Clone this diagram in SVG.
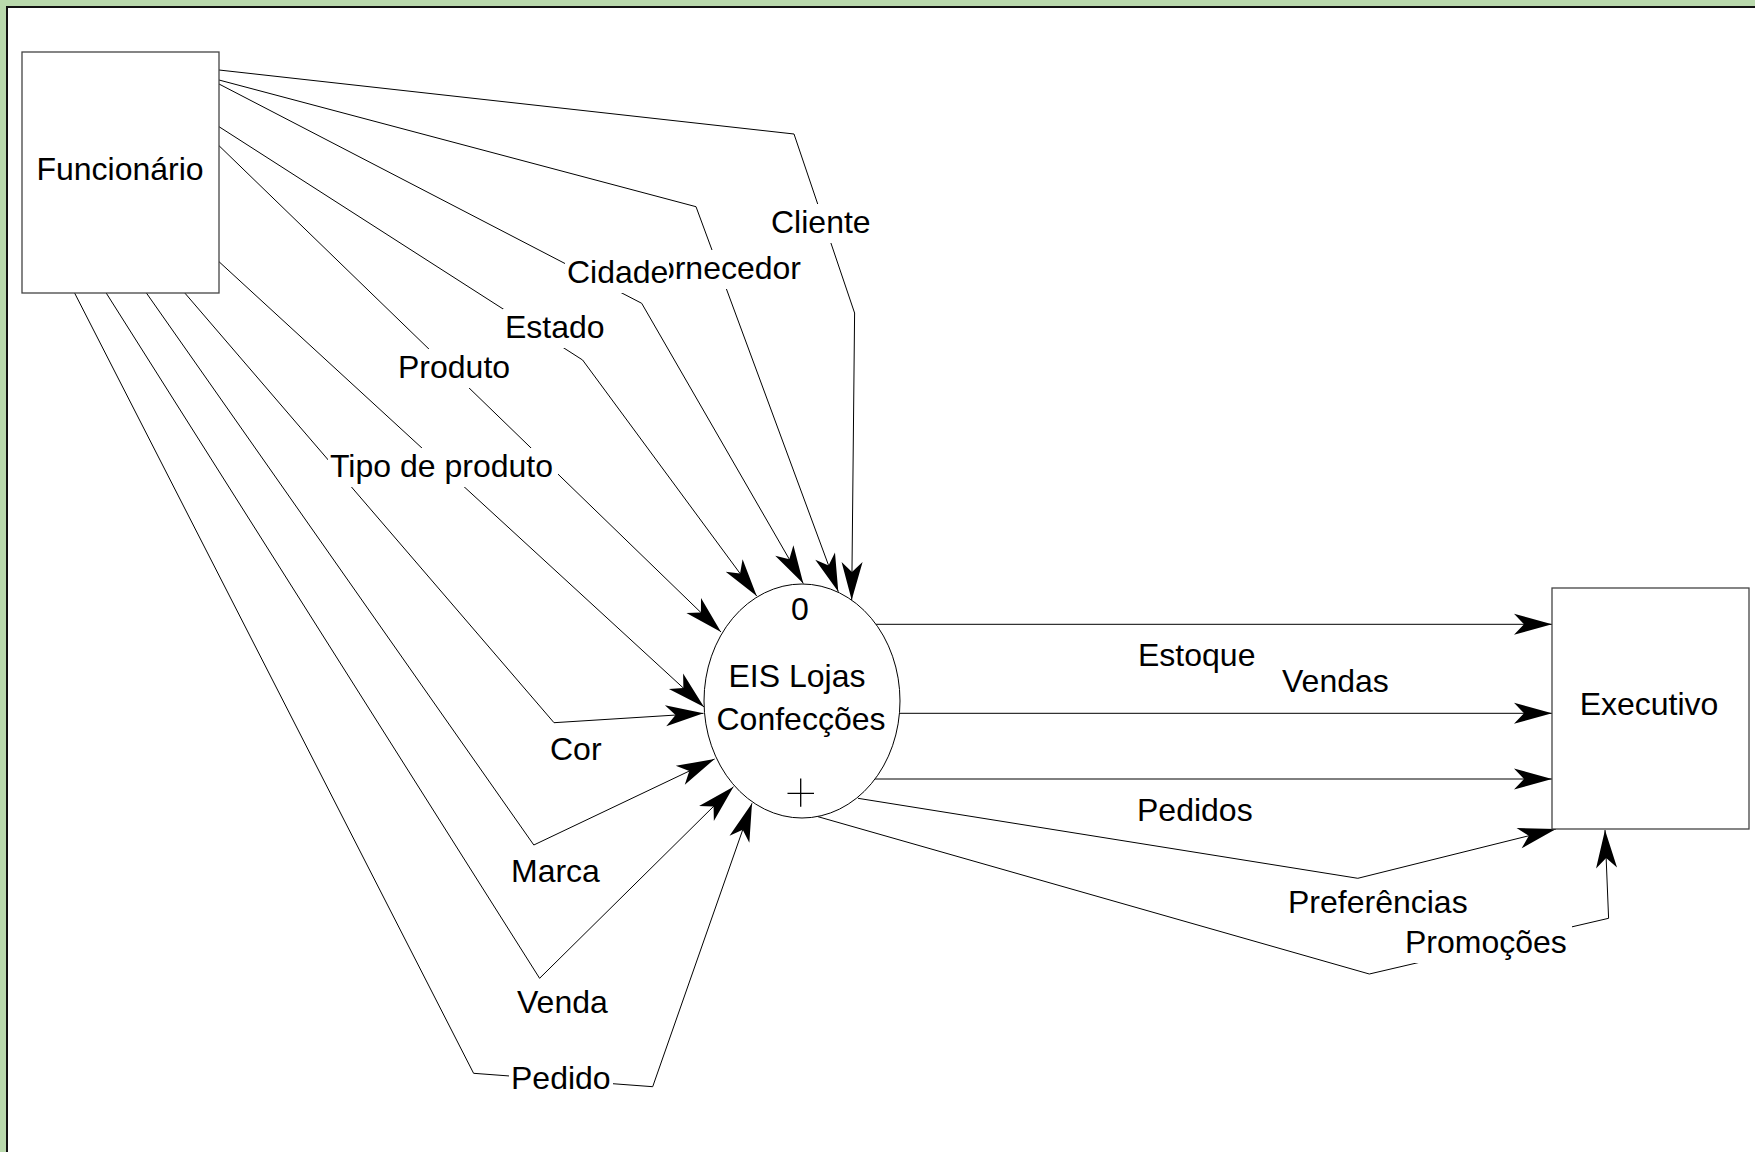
<svg xmlns="http://www.w3.org/2000/svg" width="1755" height="1152" viewBox="0 0 1755 1152">
<style>
  text { font-family: "Liberation Sans", Arial, sans-serif; font-size: 32px; fill: #000; }
  .c { fill: none; stroke: #000; stroke-width: 1; marker-end: url(#ah); }
  .bg { fill: #fff; }
  .box { fill: #fff; stroke: #444; stroke-width: 1.3; }
</style>
<defs>
  <marker id="ah" markerUnits="userSpaceOnUse" markerWidth="42" markerHeight="26" viewBox="-40 -13 42 26" refX="0" refY="0" orient="auto">
    <path d="M0,0 L-38,-10.5 L-28,0 L-38,10.5 Z" fill="#000"/>
  </marker>
</defs>
<rect x="0" y="0" width="1755" height="1152" fill="#b9d9ac"/>
<rect x="8" y="8" width="1747" height="1144" fill="#fff"/>
<path d="M7,1152 V7 H1755" fill="none" stroke="#111" stroke-width="2"/>

<g id="connectors">
  <path class="c" d="M219,70 L794,134 L854.6,313 L851.7,600"/>
  <path class="c" d="M219,80 L696,206.7 L838.3,591.7"/>
  <path class="c" d="M219,84 L641.7,303.3 L803.3,583.5"/>
  <path class="c" d="M219,126.7 L582.6,360 L756.7,596"/>
  <path class="c" d="M219,145.7 L721,632"/>
  <path class="c" d="M219,261.7 L704,707"/>
  <path class="c" d="M184.8,293 L554,722.7 L703.5,713.3"/>
  <path class="c" d="M146.4,293 L533.8,845 L714.6,759"/>
  <path class="c" d="M106.2,293 L539.6,978.3 L733.5,786.7"/>
  <path class="c" d="M74.6,293 L473.6,1073.3 L652.7,1086.7 L752,803.3"/>
  <path class="c" d="M876,624.3 L1552,624.3"/>
  <path class="c" d="M899,713.3 L1552,713.3"/>
  <path class="c" d="M875,779 L1552,779"/>
  <path class="c" d="M858,798.3 L1357.8,878.3 L1556,829"/>
  <path class="c" d="M818,816.7 L1369.3,974 L1608.6,918.3 L1605,830"/>

  <g id="labels">
    <rect class="bg" x="769" y="204" width="104" height="39"/>
    <text x="771" y="233">Cliente</text>
    <rect class="bg" x="635" y="250" width="168" height="39"/>
    <text x="801" y="279" text-anchor="end">Fornecedor</text>
    <rect class="bg" x="565" y="254" width="104" height="39"/>
    <text x="567" y="283">Cidade</text>
    <rect class="bg" x="503" y="309" width="104" height="39"/>
    <text x="505" y="338">Estado</text>
    <rect class="bg" x="396" y="349" width="116" height="39"/>
    <text x="398" y="378">Produto</text>
    <rect class="bg" x="328" y="448" width="230" height="39"/>
    <text x="330" y="477">Tipo de produto</text>
    <text x="550" y="760">Cor</text>
    <text x="511" y="882">Marca</text>
    <text x="517" y="1013">Venda</text>
    <rect class="bg" x="509" y="1060" width="104" height="39"/>
    <text x="511" y="1089">Pedido</text>
    <text x="1138" y="666">Estoque</text>
    <text x="1282" y="692">Vendas</text>
    <text x="1137" y="821">Pedidos</text>
    <text x="1288" y="913">Preferências</text>
    <rect class="bg" x="1403" y="924" width="169" height="39"/>
    <text x="1405" y="953">Promoções</text>
  </g>
</g>

<g id="funcionario">
  <rect class="box" x="22" y="52" width="197" height="241"/>
  <text x="120" y="180" text-anchor="middle">Funcionário</text>
</g>

<g id="processo">
  <ellipse cx="802" cy="701" rx="98" ry="117" fill="#fff" stroke="#000" stroke-width="1"/>
  <text x="800" y="620" text-anchor="middle">0</text>
  <text x="797" y="687" text-anchor="middle">EIS Lojas</text>
  <text x="801" y="730" text-anchor="middle">Confecções</text>
  <path d="M787.5,793.3 H814 M800.7,778.5 V806.7" stroke="#000" stroke-width="1.3"/>
</g>

<g id="executivo">
  <rect class="box" x="1552" y="588" width="197" height="241"/>
  <text x="1649" y="715" text-anchor="middle">Executivo</text>
</g>
</svg>
